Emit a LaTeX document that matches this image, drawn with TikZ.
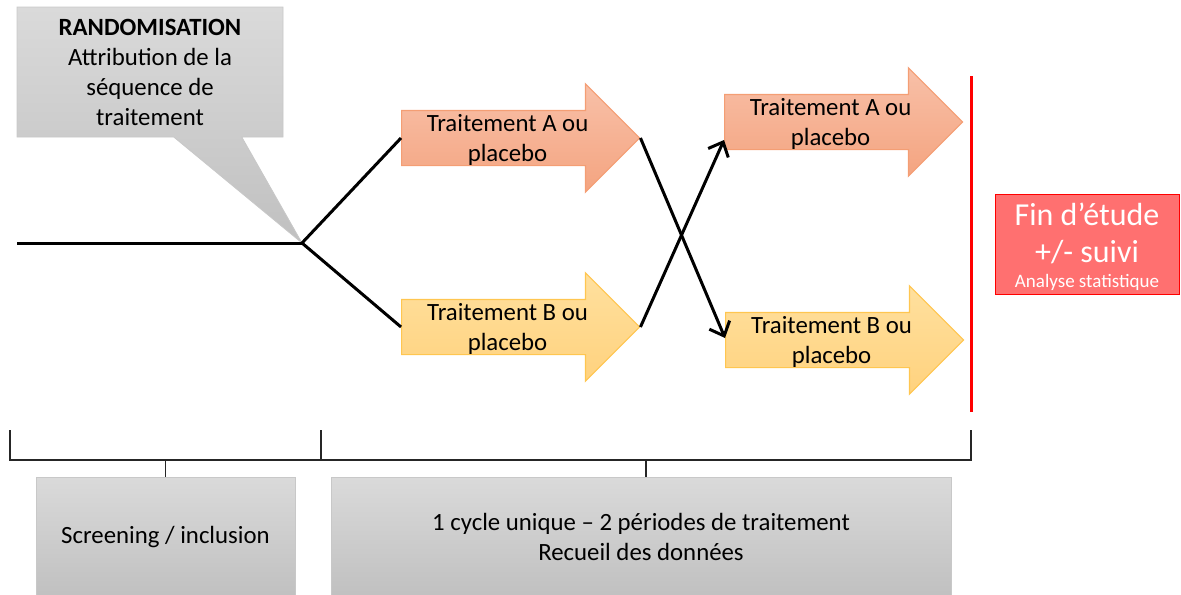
\documentclass[tikz,border=0pt]{standalone}
\usepackage{fontspec}
\setmainfont{Carlito}
\usetikzlibrary{shapes.arrows,shapes.callouts,arrows.meta,calc}

\definecolor{Atop}{RGB}{248,192,168}
\definecolor{Abot}{RGB}{244,164,128}
\definecolor{Aline}{RGB}{244,158,116}
\definecolor{Btop}{RGB}{255,224,158}
\definecolor{Bbot}{RGB}{255,210,126}
\definecolor{Bline}{RGB}{255,198,80}
\definecolor{Gtop}{RGB}{218,218,218}
\definecolor{Gbot}{RGB}{192,192,192}
\definecolor{Gline}{RGB}{200,200,200}
\definecolor{Finfill}{RGB}{255,112,112}

\tikzset{
  treat/.style={single arrow, single arrow head extend=13.25pt,
    minimum height=119pt, minimum width=53.5pt,
    inner xsep=0pt, inner ysep=13.5pt, anchor=tail, line width=0.6pt},
  treatA/.style={treat, draw=Aline, top color=Atop, bottom color=Abot},
  treatB/.style={treat, draw=Bline, top color=Btop, bottom color=Bbot},
  lbl/.style={align=center, font=\fontsize{12.4}{15}\selectfont, inner sep=0pt},
  greybox/.style={draw=Gline, top color=Gtop, bottom color=Gbot, align=center,
    font=\fontsize{12.4}{15}\selectfont},
  flow/.style={line width=1.5pt},
  cross/.style={flow, -{Straight Barb[length=6pt,width=11pt,line width=1.5pt]}},
  bracket/.style={line width=0.8pt, black!85},
}

\begin{document}
\begin{tikzpicture}[x=0.5pt,y=-0.5pt]
\clip (0,0) rectangle (1181,594);

% randomisation
\coordinate (start) at (17,243);
\coordinate (rand) at (302,243);
\node[rectangle callout, callout absolute pointer={(rand)}, callout pointer width=34pt,
  draw=Gline, top color=Gtop, bottom color=Gbot, minimum width=133pt,
  minimum height=65pt, lbl] (call) at (150,72)
  {\textbf{RANDOMISATION}\\Attribution de la\\séquence de\\traitement};

% the two periods
\node[treatA] (armA1) at (401,138) {};
\node[treatB] (armB1) at (401,327) {};
\node[treatA] (armA2) at (724,122) {};
\node[treatB] (armB2) at (725,340) {};
\foreach \arm/\lettre in {armA1/A, armB1/B, armA2/A, armB2/B}
  \node[lbl] (txt-\arm) at ($(\arm.tail)!0.445!(\arm.tip)+(0,2)$)
    {Traitement \lettre{} ou\\placebo};

\draw[flow] (start) -- (rand);
\draw[flow] (rand) -- (armA1.tail);
\draw[flow] (rand) -- (armB1.tail);
\draw[cross] (armA1.tip) -- ([yshift=1pt]armB2.tail);
\draw[cross] (armB1.tip) -- ([yshift=-9pt]armA2.tail);

% end of study
\draw[red, line width=1.5pt] (971,76) -- (971,412);
\node[draw=red, fill=Finfill, text=white, minimum width=92pt, minimum height=50pt,
  align=center, inner sep=0pt, font=\fontsize{16}{18.5}\selectfont] (fin) at (1087,244)
  {\rule{0pt}{14pt}Fin d’étude\\+/- suivi\\[-6pt]
   {\fontsize{9.5}{11}\selectfont Analyse statistique}};

% phases
\draw[bracket] (10,430) |- (971,460) -- (971,430);
\draw[bracket] (321,430) -- (321,460);
\node[greybox, minimum width=129.5pt, minimum height=60pt] (scr) at (165.5,537)
  {Screening / inclusion};
\node[greybox, minimum width=310pt, minimum height=60pt] (cyc) at (641,537)
  {1 cycle unique – 2 périodes de traitement\\Recueil des données};
\draw[bracket] (165.5,460) -- (scr.north);
\draw[bracket] (646,460) -- (646,460 |- cyc.north);
\end{tikzpicture}
\end{document}
